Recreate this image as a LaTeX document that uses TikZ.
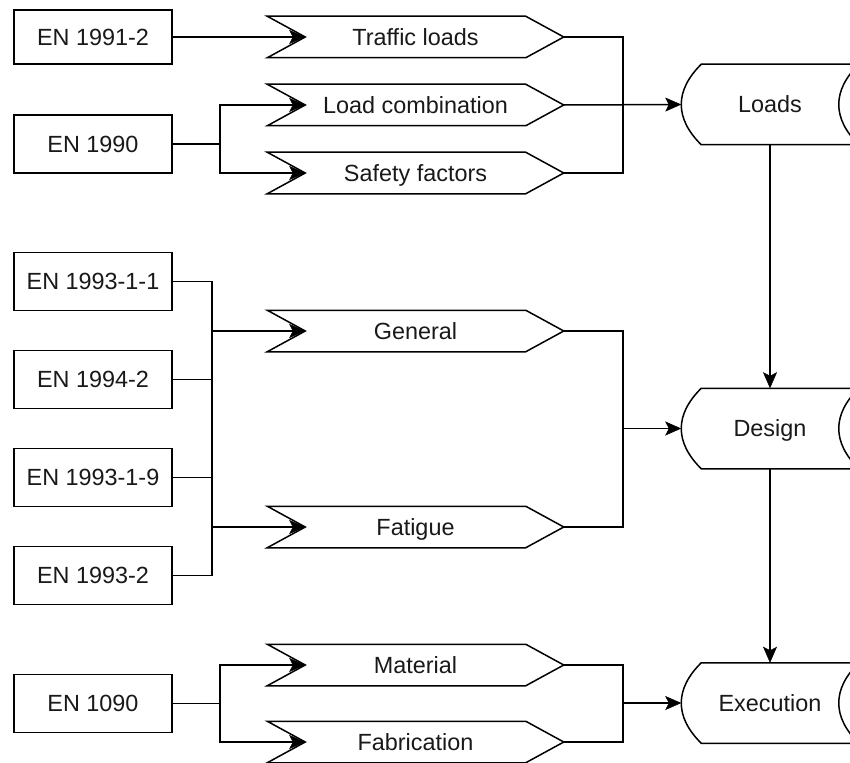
\documentclass[tikz,border=0pt]{standalone}
\usepackage{fontspec}
\setmainfont{Liberation Sans}
\usetikzlibrary{arrows.meta}
\newcommand\chevshape[1]{%
  \draw[outline] (#1.north west) -- ([xshift=-38pt]#1.north east) -- (#1.east)
    -- ([xshift=-38pt]#1.south east) -- (#1.south west) -- ([xshift=38pt]#1.west) -- cycle;
  \coordinate (#1-in) at ([xshift=38pt]#1.west);}
\newcommand\storeshape[1]{%
  \draw[outline] ([xshift=20pt]#1.north west) -- (#1.north east)
    .. controls ([xshift=-26.67pt,yshift=-26.33pt]#1.north east) and ([xshift=-26.67pt,yshift=26.33pt]#1.south east) .. (#1.south east)
    -- ([xshift=20pt]#1.south west)
    .. controls ([xshift=-6.67pt,yshift=26.33pt]#1.south west) and ([xshift=-6.67pt,yshift=-26.33pt]#1.north west) .. ([xshift=20pt]#1.north west) -- cycle;}
\begin{document}
\begin{tikzpicture}[x=1pt,y=-1pt,
  line width=1.5pt,
  every node/.style={font=\fontsize{23.4}{28}\selectfont, inner sep=0pt, text=black!90,
    text height=16.7pt, text depth=0pt},
  srcbox/.style={draw, minimum width=158pt, minimum height=58pt},
  chevnode/.style={minimum width=295pt, minimum height=40pt},
  storenode/.style={minimum width=176pt, minimum height=79pt},
  outline/.style={draw, line join=miter},
  arr/.style={-{Stealth[length=16pt,width=14pt,inset=3.5pt,line width=0.5pt]}}]
\useasboundingbox (0,0) rectangle (850,762);
\clip (0,0) rectangle (850,762);
\fill[white] (0,0) rectangle (850,762);

% source boxes
\node[srcbox, minimum height=54pt] (en19912) at (93,37) {EN 1991-2};
\node[srcbox] (en1990) at (93,144) {EN 1990};
\node[srcbox] (en199311) at (93,281.5) {EN 1993-1-1};
\node[srcbox] (en19942) at (93,379.5) {EN 1994-2};
\node[srcbox] (en199319) at (93,477.5) {EN 1993-1-9};
\node[srcbox] (en19932) at (93,575.5) {EN 1993-2};
\node[srcbox] (en1090) at (93,703.5) {EN 1090};

% chevrons
\node[chevnode] (traffic) at (415.5,37) {Traffic loads};
\node[chevnode] (loadcomb) at (415.5,105) {Load combination};
\node[chevnode] (safety) at (415.5,173) {Safety factors};
\node[chevnode] (general) at (415.5,331) {General};
\node[chevnode] (fatigue) at (415.5,527) {Fatigue};
\node[chevnode] (material) at (415.5,665) {Material};
\node[chevnode] (fabrication) at (415.5,742) {Fabrication};
\chevshape{traffic}
\chevshape{loadcomb}
\chevshape{safety}
\chevshape{general}
\chevshape{fatigue}
\chevshape{material}
\chevshape{fabrication}

% stored-data shapes
\node[storenode] (loads) at (770,104.5) {Loads};
\node[storenode] (design) at (770,428.5) {Design};
\node[storenode] (execution) at (770,703) {Execution};
\storeshape{loads}
\storeshape{design}
\storeshape{execution}

% buses
\coordinate (busL) at (220,0);
\coordinate (busM) at (212,0);
\coordinate (busR) at (623,0);

% top group
\draw[arr] (en19912.east) -- (traffic-in);
\draw (en1990.east) -- (busL |- en1990.east);
\draw[arr] (busL |- en1990.east) |- (loadcomb-in);
\draw[arr] (busL |- en1990.east) |- (safety-in);
\draw (traffic.east) -| (busR |- safety.east) -- (safety.east);
\draw[arr] (loadcomb.east) -- (loads.west);

% middle group
\draw (en199311.east) -| (busM |- en19932.east) -- (en19932.east);
\draw (en19942.east) -- (busM |- en19942.east);
\draw (en199319.east) -- (busM |- en199319.east);
\draw[arr] (busM |- general-in) -- (general-in);
\draw[arr] (busM |- fatigue-in) -- (fatigue-in);
\draw (general.east) -| (busR |- fatigue.east) -- (fatigue.east);
\draw[arr] (busR |- design.west) -- (design.west);

% bottom group
\draw (en1090.east) -- (busL |- en1090.east);
\draw[arr] (busL |- en1090.east) |- (material-in);
\draw[arr] (busL |- en1090.east) |- (fabrication-in);
\draw (material.east) -| (busR |- fabrication.east) -- (fabrication.east);
\draw[arr] (busR |- execution.west) -- (execution.west);

% vertical flow
\draw[arr] (loads.south) -- (design.north);
\draw[arr] (design.south) -- (execution.north);
\end{tikzpicture}
\end{document}
